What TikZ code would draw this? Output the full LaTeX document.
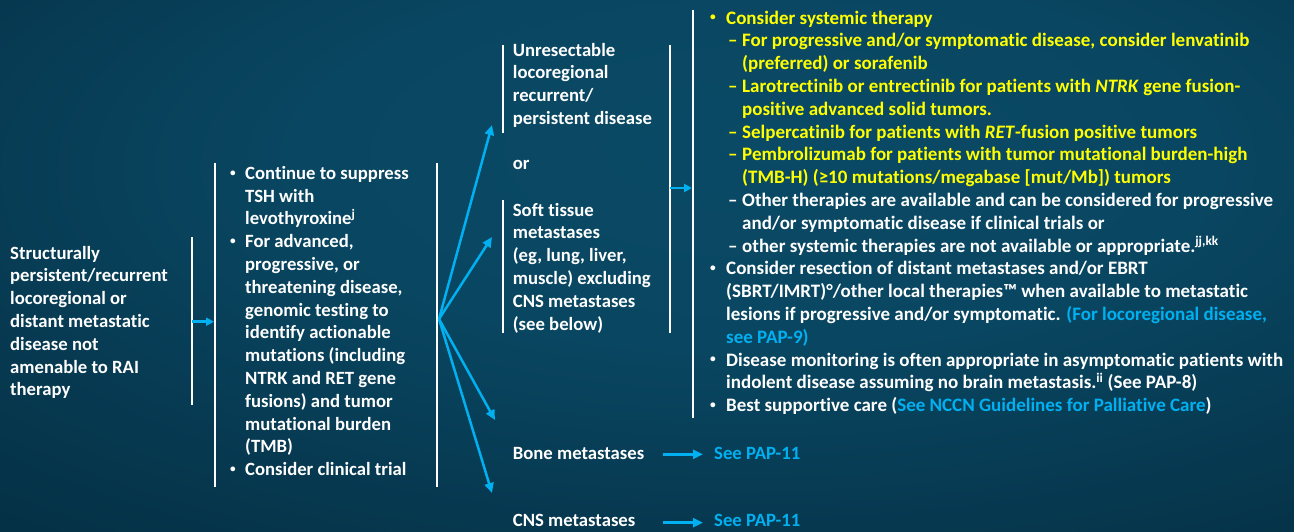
\documentclass[tikz,border=0pt]{standalone}
\usepackage{fontspec}
\usepackage{graphicx}
\setmainfont{Carlito}[Ligatures={NoCommon}]
\usetikzlibrary{arrows.meta}

\definecolor{bgin}{RGB}{10,74,102}
\definecolor{bgout}{RGB}{4,46,66}
\definecolor{linkblue}{RGB}{0,176,240}
\definecolor{hiyellow}{RGB}{255,255,0}

% soft panel background
\pgfdeclareradialshading{panelbg}{\pgfpoint{5bp}{12bp}}{%
  color(0bp)=(bgin); color(18bp)=(bgin!85!bgout); color(45bp)=(bgout); color(100bp)=(bgout)}

% list helpers: small bullet / dash in a fixed-width box, plain indent
\newcommand\SmallDot{\raisebox{0.17em}{\scalebox{0.6}{•}}}
\newcommand\Bul[1]{\makebox[#1][l]{\SmallDot}}
\newcommand\Dsh[2]{\hspace*{#1}\makebox[#2][l]{–}}
\newcommand\Ind[1]{\hspace*{#1}}
\newcommand\Y[1]{\textcolor{hiyellow}{#1}}
\newcommand\Lk[1]{\textcolor{linkblue}{#1}}

% multi-line nodes are placed by the baseline of their last line
\tikzset{
  txt/.style={font=\bfseries\fontsize{18.7}{22.8}\selectfont, text=white,
    align=left, inner sep=0pt, anchor=base west},
  rtxt/.style={txt, font=\bfseries\fontsize{19}{22.8}\selectfont},
  link/.style={txt, text=linkblue},
  bar/.style={draw=white, line width=1.5pt},
  flow/.style={draw=linkblue, line width=2.5pt,
    -{Triangle[length=10pt,width=9pt]}},
  shortflow/.style={draw=linkblue, line width=2.5pt,
    -{Triangle[length=8pt,width=8pt]}}
}

\begin{document}
\begin{tikzpicture}[x=1pt,y=-1pt]
\useasboundingbox (0,0) rectangle (1294,531);
\shade[shading=panelbg] (0,0) rectangle (1294,531);

% brackets
\draw[bar] (192,237) -- (192,405);
\draw[bar] (215,163) -- (215,487);
\draw[bar] (437,163) -- (437,487);
\draw[bar] (503,45) -- (503,133);
\draw[bar] (503,200) -- (503,333);
\draw[bar] (670,45) -- (670,333);
\draw[bar] (693,10) -- (693,418);

% starting condition
\node[txt] (start) at (10,395.8) {Structurally\\persistent/recurrent\\locoregional or\\distant metastatic\\disease not\\amenable to RAI\\therapy};

% general management
\node[txt] (manage) at (230,475.7) {%
\Bul{15pt}Continue to suppress\\
\Ind{15pt}TSH with\\
\Ind{15pt}levothyroxine\textsuperscript{j}\\
\Bul{15pt}For advanced,\\
\Ind{15pt}progressive, or\\
\Ind{15pt}threatening disease,\\
\Ind{15pt}genomic testing to\\
\Ind{15pt}identify actionable\\
\Ind{15pt}mutations (including\\
\Ind{15pt}NTRK and RET gene\\
\Ind{15pt}fusions) and tumor\\
\Ind{15pt}mutational burden\\
\Ind{15pt}(TMB)\\
\Bul{15pt}Consider clinical trial};

% disease sites
\node[txt] (unres) at (512.7,124.4) {Unresectable\\locoregional\\recurrent/\\persistent disease};
\node[txt] (or) at (512.7,169.3) {or};
\node[txt] (soft) at (512.7,330) {Soft tissue\\metastases\\(eg, lung, liver,\\muscle) excluding\\CNS metastases\\(see below)};
\node[txt] (bone) at (512.7,459.3) {Bone metastases};
\node[txt] (cns) at (512.7,526.7) {CNS metastases};
\node[link] (seebone) at (714,459.3) {See PAP-11};
\node[link] (seecns) at (714,526.7) {See PAP-11};

% treatment options
\node[rtxt] (treat) at (710,411.6) {%
\Y{\Bul{16pt}Consider systemic therapy}\\
\Y{\Dsh{18pt}{14pt}For progressive and/or symptomatic disease, consider lenvatinib}\\
\Y{\Ind{32pt}(preferred) or sorafenib}\\
\Y{\Dsh{18pt}{14pt}Larotrectinib or entrectinib for patients with \textit{NTRK} gene fusion-}\\
\Y{\Ind{32pt}positive advanced solid tumors.}\\
\Y{\Dsh{18pt}{14pt}Selpercatinib for patients with \textit{RET}-fusion positive tumors}\\
\Y{\Dsh{18pt}{14pt}Pembrolizumab for patients with tumor mutational burden-high}\\
\Y{\Ind{32pt}(TMB-H) (≥10 mutations/megabase [mut/Mb]) tumors}\\
\Dsh{18pt}{14pt}Other therapies are available and can be considered for progressive\\
\Ind{32pt}and/or symptomatic disease if clinical trials or\\
\Dsh{18pt}{14pt}other systemic therapies are not available or appropriate.\textsuperscript{jj,kk}\\
\Bul{16pt}Consider resection of distant metastases and/or EBRT\\
\Ind{16pt}(SBRT/IMRT)°/other local therapies™ when available to metastatic\\
\Ind{16pt}lesions if progressive and/or symptomatic. \Lk{(For locoregional disease,}\\
\Ind{16pt}\Lk{see PAP-9)}\\
\Bul{16pt}Disease monitoring is often appropriate in asymptomatic patients with\\
\Ind{16pt}indolent disease assuming no brain metastasis.\textsuperscript{ii} (See PAP-8)\\
\Bul{16pt}Best supportive care (\Lk{See NCCN Guidelines for Palliative Care})};

% connector end points
\coordinate (s1) at (192,321.7);
\coordinate (s1e) at (214,321.7);
\coordinate (fan) at (439,319);
\coordinate (tUnres) at (492,125);
\coordinate (tSoft) at (492,237);
\coordinate (tBone) at (495,420);
\coordinate (tCns) at (492,493);
\coordinate (s2) at (670,188);
\coordinate (s2e) at (692,188);
\coordinate (b0) at (663,454.3);
\coordinate (c0) at (663,522.7);

\draw[shortflow] (s1) -- (s1e);
\draw[flow] (fan) -- (tUnres);
\draw[flow] (fan) -- (tSoft);
\draw[flow] (fan) -- (tBone);
\draw[flow] (fan) -- (tCns);
\draw[shortflow] (s2) -- (s2e);
\draw[flow] (b0) -- ([xshift=-11pt]seebone.west |- b0);
\draw[flow] (c0) -- ([xshift=-11pt]seecns.west |- c0);
\end{tikzpicture}
\end{document}
